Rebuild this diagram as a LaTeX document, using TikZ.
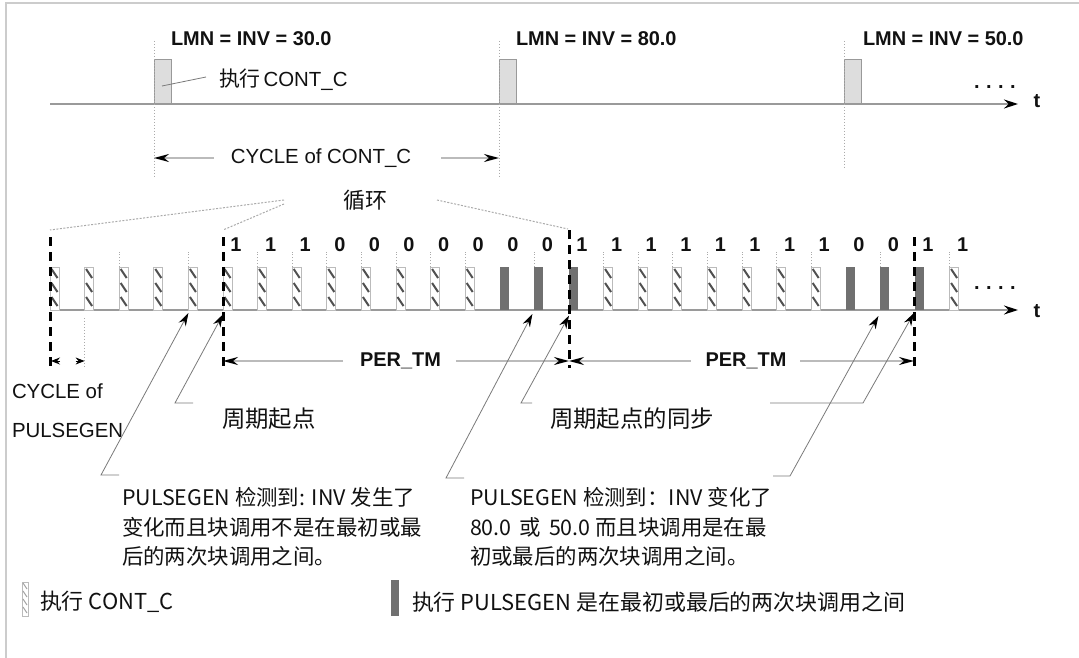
\documentclass[tikz,border=0pt]{standalone}
\usepackage{fontspec}
\setmainfont{Liberation Sans}
\newfontfamily\cjk{Noto Sans CJK SC}
\usetikzlibrary{arrows.meta,calc}
\definecolor{axisgray}{HTML}{9A9A9A}
\definecolor{framegray}{HTML}{CCCCCC}
\definecolor{pulsefill}{HTML}{DDDDDD}
\definecolor{pulsedraw}{HTML}{999999}
\definecolor{darkbar}{HTML}{707070}
\definecolor{hatchc}{HTML}{505050}
\definecolor{barline}{HTML}{BBBBBB}
\definecolor{leadgray}{HTML}{7A7A7A}
\definecolor{dimgray}{HTML}{BBBBBB}
\definecolor{dotgray}{HTML}{AAAAAA}
\definecolor{txt}{HTML}{111111}
\begin{document}
\begin{tikzpicture}[x=1bp,y=-1bp,
  every node/.style={inner sep=0pt, outer sep=0pt, text=txt},
  latf/.style={font=\fontsize{20.5}{24}\selectfont},
  latb/.style={font=\fontsize{20}{24}\selectfont\bfseries},
  cjkL/.style={font=\cjk\fontsize{23.5}{28}\selectfont},
  cjkM/.style={font=\cjk\fontsize{21.5}{30}\selectfont, align=left},
  axisline/.style={draw=axisgray, line width=1.2bp, -{Stealth[length=14bp,width=9bp,color=black]}},
  pulse/.style={draw=pulsedraw, fill=pulsefill, line width=1bp, minimum width=17bp, minimum height=44bp, anchor=south west},
  hbar/.style={draw=barline, line width=0.8bp, fill=white, minimum width=9bp, minimum height=43bp, anchor=south west},
  dbar/.style={fill=darkbar, minimum width=9bp, minimum height=43bp, anchor=south west},
  hatch/.style={draw=hatchc, line width=2bp},
  dotv/.style={draw=dotgray, dotted, line width=1bp},
  fanline/.style={draw=dotgray, dash pattern=on 2bp off 1.5bp, line width=1bp},
  thickdash/.style={draw=black, line width=3bp, dash pattern=on 9bp off 6bp},
  dimline/.style={draw=dimgray, line width=1.4bp, -{Stealth[length=15bp,width=8bp,color=black]}},
  smallarr/.style={draw=black, line width=1bp, -{Stealth[length=9bp,width=7bp,color=black]}},
  leader/.style={draw=leadgray, line width=0.8bp, -{Stealth[length=13bp,width=8bp,color=black]}},
  plainlead/.style={draw=leadgray, line width=0.8bp}
]
\useasboundingbox (0,0) rectangle (1079,658);
\draw[framegray, line width=1.5bp] (6,658) -- (6,3) -- (1079,3);

% ---------- top time line ----------
\coordinate (ax1s) at (50,104);
\coordinate (ax1e) at (1018,104);
\draw[axisline] (ax1s) -- (ax1e);
\node[latb] (t1) at (1037,101) {t};
\node[latb, anchor=west] (dots1) at (974,87) {.\hspace{6.5bp}.\hspace{6.5bp}.\hspace{6.5bp}.};

\node[pulse] (pul1) at (154,104) {};
\node[pulse] (pul2) at (499,104) {};
\node[pulse] (pul3) at (844,104) {};
\draw[dotv] (154,41) -- (154,176);
\draw[dotv] (499,41) -- (499,176);
\draw[dotv] (844,41) -- (844,167);

\node[latb, anchor=west] (lmn1) at (171,39) {LMN = INV = 30.0};
\node[latb, anchor=west] (lmn2) at (516,39) {LMN = INV = 80.0};
\node[latb, anchor=west] (lmn3) at (863,39) {LMN = INV = 50.0};

\node[anchor=west] (exec) at (219,80) {{\cjk\fontsize{21}{24}\selectfont 执行} {\fontsize{20.5}{24}\selectfont CONT\_C}};
\coordinate (execpt) at (162,86);
\draw[plainlead] (execpt) -- ($(exec.west)+(-13,-3)$);

% cycle of CONT_C
\node[latf] (cyc) at (321,158) {CYCLE of CONT\_C};
\coordinate (cycL) at (154,158);
\coordinate (cycR) at (499,158);
\draw[dimline] ($(cyc.west)+(-17,0)$) -- (cycL);
\draw[dimline] ($(cyc.east)+(30,0)$) -- (cycR);

\node[cjkL, font=\cjk\fontsize{22}{26}\selectfont] (loop) at (365,200) {循环};
\coordinate (f1a) at (284,200); \coordinate (f1b) at (50,230);
\coordinate (f2a) at (284,204); \coordinate (f2b) at (223,230);
\coordinate (f3a) at (437,200); \coordinate (f3b) at (568,229);
\draw[fanline] (f1a) -- (f1b);
\draw[fanline] (f2a) -- (f2b);
\draw[fanline] (f3a) -- (f3b);

% ---------- bottom time line ----------
\coordinate (ax2s) at (50,310);
\coordinate (ax2e) at (1018,310);
\draw[axisline] (ax2s) -- (ax2e);
\node[latb] (t2) at (1037,311) {t};
\node[latb, anchor=west] (dots2) at (974,288) {.\hspace{6.5bp}.\hspace{6.5bp}.\hspace{6.5bp}.};

\foreach \k in {0,...,12,16,17,18,19,20,21,22,26} {
  \node[hbar] (bar\k) at ({50+34.6*\k},310) {};
  \foreach \o in {2,16,30}
    \draw[hatch] ({50+34.6*\k+1.5},{267+\o}) -- ++(6,9);
}
\foreach \k in {13,14,15,23,24,25} {
  \node[dbar] (bar\k) at ({50+34.6*\k},310) {};
}
\foreach \k in {2,4,6,7,8,9,10,11,12,14,16,17,18,19,20,21,22,24,26} {
  \draw[dotv] (bar\k.north west) -- ++(0,-15);
}
\draw[dotv] ($(bar1.south west)+(0,8)$) -- ++(0,50);

\foreach \k/\v in {5/1,6/1,7/1,8/0,9/0,10/0,11/0,12/0,13/0,14/0,15/1,16/1,17/1,18/1,19/1,20/1,21/1,22/1,23/0,24/0,25/1,26/1} {
  \node[latb] (n\k) at ({50+34.6*\k+13},245) {\v};
}

% thick dashed period marks
\coordinate (d0t) at (50,237);  \coordinate (d0b) at (50,368);
\coordinate (d1t) at (223,237); \coordinate (d1b) at (223,368);
\coordinate (d2t) at (569,230); \coordinate (d2b) at (569,368);
\coordinate (d3t) at (914,237); \coordinate (d3b) at (914,368);
\draw[thickdash] (d0t) -- (d0b);
\draw[thickdash] (d1t) -- (d1b);
\draw[thickdash] (d2t) -- (d2b);
\draw[thickdash] (d3t) -- (d3b);

% PER_TM
\node[latb] (per1) at (400.5,361) {PER\_TM};
\node[latb] (per2) at (746,361) {PER\_TM};
\coordinate (pm1) at (223,361);
\coordinate (pm2) at (569,361);
\coordinate (pm3) at (914,361);
\draw[dimline] ($(per1.west)+(-17,0)$) -- (pm1);
\draw[dimline] ($(per1.east)+(15,0)$) -- (pm2);
\draw[dimline] ($(per2.west)+(-15,0)$) -- (pm2);
\draw[dimline] ($(per2.east)+(14,0)$) -- (pm3);

% cycle of PULSEGEN
\coordinate (cpL) at (51,361);
\coordinate (cpR) at (84.6,361);
\draw[smallarr] (60,361) -- (cpL);
\draw[smallarr] (75.6,361) -- (cpR);
\node[latf, anchor=west] (cpa) at (12,391) {CYCLE of};
\node[latf, anchor=west] (cpb) at (12,430) {PULSEGEN};

% labels
\node[cjkL, anchor=west] (start1) at (222,419) {周期起点};
\node[cjkL, anchor=west] (start2) at (550,419) {周期起点的同步};

% callouts
\node[cjkM, anchor=north west] (c1) at (122,487) {PULSEGEN 检测到: INV 发生了\\变化而且块调用不是在最初或最\\后的两次块调用之间。};
\node[cjkM, anchor=north west] (c2) at (470,487) {PULSEGEN 检测到：INV 变化了\\80.0\hspace{8bp}或\hspace{8bp}50.0 而且块调用是在最\\初或最后的两次块调用之间。};

% leaders
\coordinate (l1h) at (119,475); \coordinate (l1c) at (101,475);
\draw[leader] (l1h) -- (l1c) -- ($(bar4.south west)+(0,3)$);
\coordinate (l2h) at (193,403); \coordinate (l2c) at (175,403);
\draw[leader] (l2h) -- (l2c) -- ($(d1t)!0.59!(d1b)$);
\coordinate (l3h) at (464,478); \coordinate (l3c) at (446,478);
\draw[leader] (l3h) -- (l3c) -- ($(bar14.south west)+(-2,4)$);
\coordinate (l4h) at (532,403); \coordinate (l4c) at (521,403);
\draw[leader] (l4h) -- (l4c) -- ($(d2t)!0.62!(d2b)$);
\coordinate (l5h) at (773,476); \coordinate (l5c) at (790,476);
\draw[leader] (l5h) -- (l5c) -- ($(bar24.south west)+(-2,6)$);
\coordinate (l6h) at (770,403); \coordinate (l6c) at (863,403);
\draw[leader] (l6h) -- (l6c) -- ($(d3t)!0.58!(d3b)$);

% legend
\node[draw=barline, line width=0.6bp, minimum width=6bp, minimum height=34bp, anchor=north west] (leg1) at (22,582) {};
\foreach \o in {1,9,17,25}
  \draw[draw=gray!70, line width=1bp] (23,{582+\o}) -- ++(4,6);
\node[cjkM, font=\cjk\fontsize{22}{26}\selectfont, anchor=west] (legt1) at (40,602) {执行 CONT\_C};
\node[dbar, minimum width=8bp, minimum height=36bp, anchor=north west] (leg2) at (391,580) {};
\node[cjkM, font=\cjk\fontsize{22}{26}\selectfont, anchor=west] (legt2) at (412,602) {执行 PULSEGEN 是在最初或最后的两次块调用之间};
\end{tikzpicture}
\end{document}
